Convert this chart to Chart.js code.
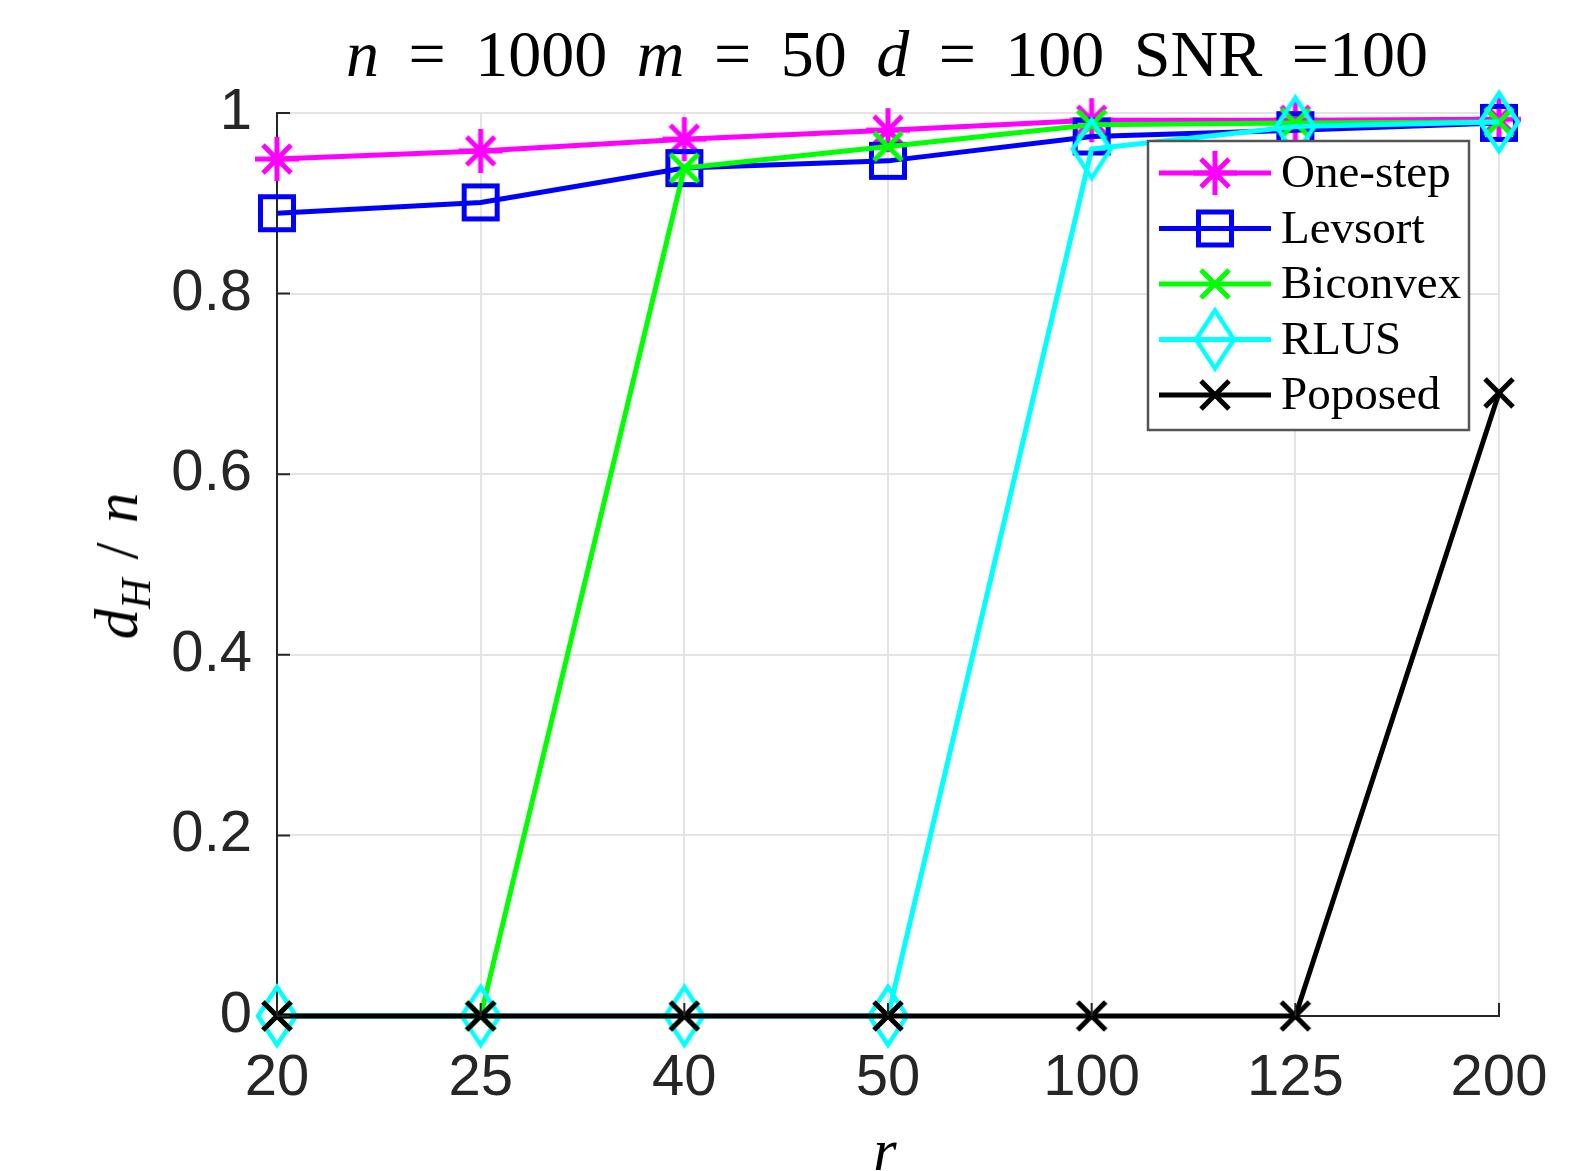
<!DOCTYPE html>
<html>
<head>
<meta charset="utf-8">
<script src="https://cdn.jsdelivr.net/npm/chart.js@4/dist/chart.umd.min.js"></script>
<style>
  html, body { margin: 0; padding: 0; background: #ffffff; }
  #wrap { position: relative; width: 1577px; height: 1171px; overflow: hidden; background: #fff; }
  #c { position: absolute; left: 0; top: 0; }
  .lbl { position: absolute; font-family: "Liberation Serif", "DejaVu Serif", serif; color: #000; white-space: nowrap; }
  #title { left: 887px; top: 22px; font-size: 66px; line-height: 64px; word-spacing: 13px; transform: translateX(-50%); }
  #ylab { left: 117px; top: 566px; font-size: 61px; line-height: 60px; word-spacing: 4px; transform: translate(-50%, -50%) rotate(-90deg); }
  #ylab sub { font-size: 42px; vertical-align: -13px; line-height: 0; }
  #xlab { left: 885px; top: 1121px; font-size: 60px; line-height: 58px; transform: translateX(-50%); }
</style>
</head>
<body>
<div id="wrap">
  <canvas id="c" width="1577" height="1171"></canvas>
  <div id="title" class="lbl"><i>n</i> = 1000 <i>m</i> = 50 <i>d</i> = 100 SNR =100</div>
  <div id="ylab" class="lbl"><i>d</i><sub><i>H</i></sub> / <i>n</i></div>
  <div id="xlab" class="lbl"><i>r</i></div>
</div>
<script>
// ---- data ----
const categories = ['20', '25', '40', '50', '100', '125', '200'];
const yTickLabels = ['0', '0.2', '0.4', '0.6', '0.8', '1'];
const seriesNames = ['One-step', 'Levsort', 'Biconvex', 'RLUS', 'Poposed'];
const oneStep  = [0.949, 0.958, 0.971, 0.981, 0.992, 0.992, 0.993];
const levsort  = [0.889, 0.901, 0.939, 0.947, 0.974, 0.981, 0.989];
const biconvex = [0, 0, 0.939, 0.963, 0.987, 0.989, 0.990];
const rlus     = [0, 0, 0, 0, 0.960, 0.985, 0.990];
const poposed  = [0, 0, 0, 0, 0, 0, 0.690];

// ---- marker images ----
function mk(w, h, draw) {
  const c = document.createElement('canvas');
  c.width = w; c.height = h;
  const g = c.getContext('2d');
  g.translate(w / 2, h / 2);
  draw(g);
  return c;
}
const mAst = mk(56, 56, g => {
  g.strokeStyle = '#ff00ff'; g.lineWidth = 5; g.beginPath();
  g.moveTo(0, -22); g.lineTo(0, 22);
  g.moveTo(-22, 0); g.lineTo(22, 0);
  g.moveTo(-14, -14); g.lineTo(14, 14);
  g.moveTo(-14, 14); g.lineTo(14, -14);
  g.stroke();
});
const mSq = mk(46, 46, g => {
  g.strokeStyle = '#0000ff'; g.lineWidth = 5;
  g.strokeRect(-16.5, -16.5, 33, 33);
});
function mkX(col) {
  return mk(42, 42, g => {
    g.strokeStyle = col; g.lineWidth = 5; g.beginPath();
    g.moveTo(-14, -14); g.lineTo(14, 14);
    g.moveTo(-14, 14); g.lineTo(14, -14);
    g.stroke();
  });
}
const mXg = mkX('#00ff00');
const mXk = mkX('#000000');
const mDi = mk(52, 72, g => {
  g.strokeStyle = '#00ffff'; g.lineWidth = 4.5; g.beginPath();
  g.moveTo(0, -29); g.lineTo(19, 0); g.lineTo(0, 29); g.lineTo(-19, 0); g.closePath();
  g.stroke();
});

const colors = ['#ff00ff', '#0000ff', '#00ff00', '#00ffff', '#000000'];
const markers = [mAst, mSq, mXg, mDi, mXk];
const values = [oneStep, levsort, biconvex, rlus, poposed];

const datasets = values.map((v, i) => ({
  label: seriesNames[i],
  data: v,
  borderColor: colors[i],
  backgroundColor: colors[i],
  borderWidth: 5,
  pointStyle: markers[i],
  pointRadius: 14,
  pointHoverRadius: 14,
  tension: 0,
  fill: false,
  clip: false,
  order: 5 - i
}));

// ---- plugins ----
const whiteBg = {
  id: 'whiteBg',
  beforeDraw(chart) {
    const ctx = chart.ctx;
    ctx.save(); ctx.fillStyle = '#fff';
    ctx.fillRect(0, 0, chart.width, chart.height);
    ctx.restore();
  }
};
const inTicks = {
  id: 'inTicks',
  afterDraw(chart) {
    const { ctx, chartArea: a, scales } = chart;
    ctx.save();
    ctx.strokeStyle = '#262626'; ctx.lineWidth = 2;
    ctx.beginPath();
    scales.y.ticks.forEach((t, i) => {
      const y = scales.y.getPixelForTick(i);
      ctx.moveTo(a.left, y); ctx.lineTo(a.left + 13, y);
    });
    scales.x.ticks.forEach((t, i) => {
      const x = scales.x.getPixelForTick(i);
      ctx.moveTo(x, a.bottom); ctx.lineTo(x, a.bottom - 13);
    });
    ctx.stroke();
    ctx.restore();
  }
};
const boxLegend = {
  id: 'boxLegend',
  afterDatasetsDraw(chart) {
    const ctx = chart.ctx;
    const L = 1148, T = 141, R = 1469, B = 430;
    ctx.save();
    ctx.fillStyle = '#ffffff';
    ctx.fillRect(L, T, R - L, B - T);
    ctx.strokeStyle = '#555555'; ctx.lineWidth = 2.5;
    ctx.strokeRect(L, T, R - L, B - T);
    ctx.font = '47px "Liberation Serif", "DejaVu Serif", serif';
    ctx.textBaseline = 'middle';
    ctx.fillStyle = '#000';
    chart.data.datasets.forEach((ds, i) => {
      const y = T + 32 + i * 55.5;
      ctx.strokeStyle = ds.borderColor; ctx.lineWidth = 5;
      ctx.beginPath(); ctx.moveTo(1159, y); ctx.lineTo(1271, y); ctx.stroke();
      const img = ds.pointStyle;
      ctx.drawImage(img, 1215 - img.width / 2, y - img.height / 2);
      ctx.fillText(ds.label, 1281, y + 2);
    });
    ctx.restore();
  }
};

new Chart(document.getElementById('c'), {
  type: 'line',
  data: { labels: categories, datasets },
  plugins: [whiteBg, boxLegend, inTicks],
  options: {
    responsive: false,
    animation: false,
    events: [],
    layout: { padding: { top: 113, right: 78, left: 0, bottom: 0 } },
    plugins: { legend: { display: false }, title: { display: false }, tooltip: { enabled: false } },
    scales: {
      x: {
        type: 'category',
        offset: false,
        afterFit(s) { s.height = 155; },
        grid: { color: '#e4e4e4', lineWidth: 2, drawTicks: false, offset: false },
        border: { color: '#262626', width: 2 },
        ticks: {
          padding: 28,
          color: '#262626',
          font: { family: '"Liberation Sans", Arial, sans-serif', size: 58 },
          maxRotation: 0, autoSkip: false,
          callback: (v, i) => categories[i]
        }
      },
      y: {
        min: 0, max: 1,
        afterFit(s) { s.width = 277; },
        grid: { color: '#e4e4e4', lineWidth: 2, drawTicks: false },
        border: { color: '#262626', width: 2 },
        ticks: {
          stepSize: 0.2,
          padding: 25,
          color: '#262626',
          font: { family: '"Liberation Sans", Arial, sans-serif', size: 58 },
          callback: (v, i) => yTickLabels[i]
        }
      }
    }
  }
});
</script>
</body>
</html>
